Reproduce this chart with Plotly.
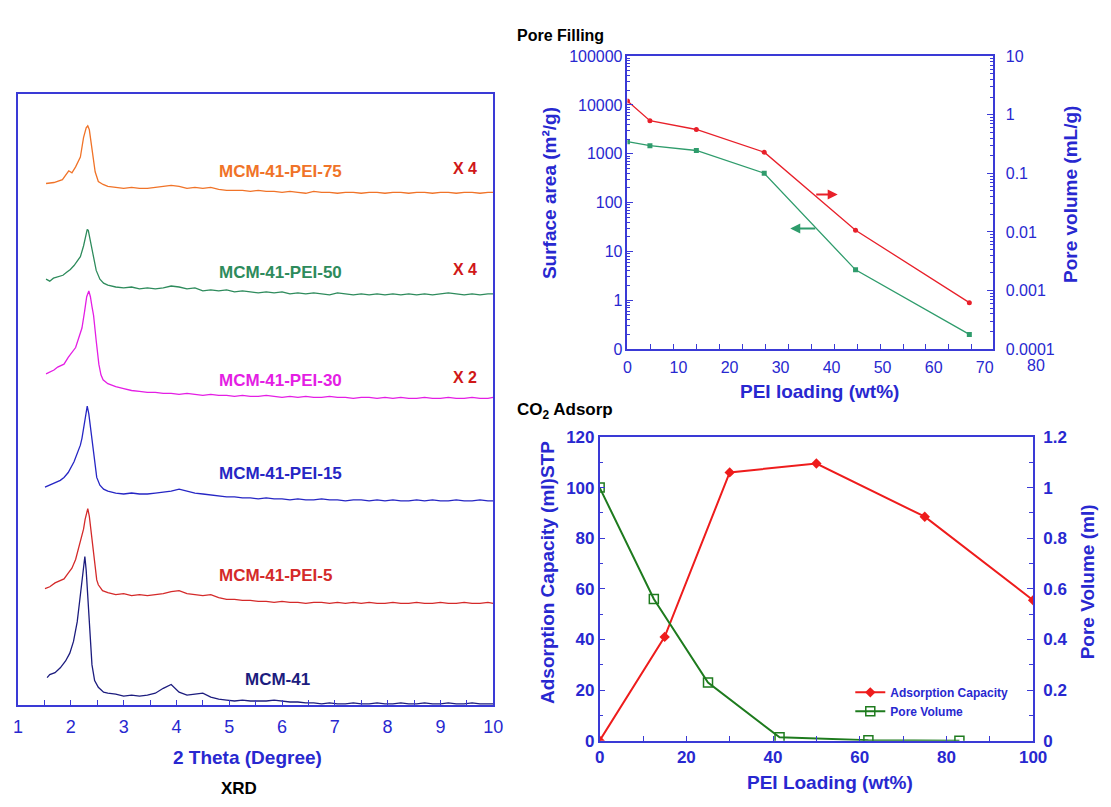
import math
import plotly.graph_objects as go

# ---------------- DATA ----------------
# XRD patterns: 2 theta (degree) vs stacked intensity (a.u.)
# peak region points per sample, then a shared grid for the flat tails
tail_x = [2.70,2.85,3.00,3.15,3.30,3.45,3.60,3.75,3.90,4.05,
          4.20,4.35,4.50,4.65,4.80,4.95,5.10,5.25,5.40,5.55,
          5.70,5.85,6.00,6.15,6.30,6.45,6.60,6.75,6.90,7.05,
          7.20,7.35,7.50,7.65,7.80,7.95,8.10,8.25,8.40,8.55,
          8.70,8.85,9.00,9.15,9.30,9.45,9.60,9.75,9.90,10.0]

mcm41_head_x = [1.55,1.60,1.70,1.80,1.90,1.98,2.05,2.12,2.17,2.21,2.24,2.265,2.29,2.32,2.36,2.40,2.45,2.52,2.62]
mcm41_head_y = [28,31,33,38,45,53,65,85,108,128,146,152,138,108,73,41,25,18,13]
mcm41_tail_y = [12,11,9,10,9,10,12,17,21,13,
                10,11,12,8,6,5,4,5,4,4,
                4,5,4,3,3,2,2,1,2,1,
                1,2,1,1,2,1,1,2,1,1,
                2,1,1,2,1,1,2,1,1,1]

pei5_head_x = [1.51,1.60,1.70,1.80,1.87,1.95,2.02,2.09,2.15,2.20,2.24,2.27,2.30,2.32,2.35,2.38,2.41,2.45,2.49,2.52,2.60]
pei5_head_y = [119,121,125,127,129,135,140,149,161,173,180,190,199,201,193,178,166,143,128,123,117]
pei5_tail_y = [115,113,114,112,113,112,113,114,116,117,
               114,113,112,113,110,108,108,107,107,106,
               106,105,106,105,105,104,105,105,104,105,
               104,105,104,105,104,104,105,104,104,105,
               104,104,105,104,104,105,104,104,105,104]

pei15_head_x = [1.51,1.60,1.70,1.80,1.87,1.95,2.06,2.13,2.18,2.21,2.25,2.29,2.31,2.34,2.37,2.40,2.44,2.49,2.55,2.62]
pei15_head_y = [223,225,227,230,233,238,249,258,266,273,288,303,306,298,285,273,251,233,225,221]
pei15_tail_y = [219,217,216,217,216,216,217,218,219,221,
                219,217,216,215,214,213,213,212,212,211,
                212,211,211,210,211,210,210,211,210,210,
                209,210,210,209,210,209,210,209,209,210,
                209,210,209,209,210,209,209,210,209,209]

pei30_head_x = [1.53,1.60,1.68,1.75,1.87,1.95,2.02,2.09,2.15,2.21,2.26,2.30,2.34,2.37,2.40,2.43,2.48,2.53,2.57,2.61]
pei30_head_y = [339,341,343,346,349,356,361,366,376,386,403,418,424,418,408,399,373,349,338,333]
pei30_tail_y = [329,326,324,322,321,320,320,319,319,318,
                319,318,317,318,317,317,316,317,316,316,
                317,316,315,316,315,316,315,315,316,315,
                315,314,315,315,314,315,314,315,314,314,
                315,314,314,315,314,314,315,314,314,315]

pei50_head_x = [1.53,1.60,1.67,1.745,1.85,1.92,1.99,2.06,2.12,2.18,2.24,2.27,2.31,2.33,2.36,2.42,2.48,2.55,2.62]
pei50_head_y = [436,434,437,438,440,443,446,450,455,459,470,479,487,486,478,459,445,436,432]
pei50_tail_y = [430,428,427,428,426,427,426,427,429,428,
                426,427,424,425,424,425,423,424,423,422,
                423,422,423,421,422,421,422,421,420,422,
                421,420,421,420,421,420,421,420,421,420,
                421,420,421,422,421,420,421,420,421,421]

pei75_head_x = [1.53,1.68,1.84,1.90,1.96,2.02,2.09,2.18,2.24,2.29,2.32,2.35,2.40,2.46,2.52,2.61]
pei75_head_y = [534,535,538,543,547,545,551,561,581,591,593,589,569,546,536,533]
pei75_tail_y = [531,530,529,530,529,529,530,531,532,531,
                529,530,529,530,528,527,527,527,526,527,
                526,526,525,526,525,524,526,525,525,524,
                525,525,524,525,525,524,525,525,524,525,
                525,524,525,525,524,525,525,524,525,525]

xrd_names = ["MCM-41", "MCM-41-PEI-5", "MCM-41-PEI-15", "MCM-41-PEI-30", "MCM-41-PEI-50", "MCM-41-PEI-75"]
xrd_scale = ["", "", "", "X 2", "X 4", "X 4"]

# Pore filling (top right)
pf_loading = [0, 4.4, 13.5, 26.8, 44.7, 67.0]
surface_area = [1770, 1470, 1170, 400, 4.2, 0.2]
pore_volume_pf = [1.71, 0.79, 0.56, 0.23, 0.0107, 0.00062]

# CO2 adsorption (bottom right)
ads_loading = [0, 15, 30, 50, 75, 100]
ads_capacity = [0, 41, 106, 109.5, 88.5, 55.5]
pv_loading = [0, 12.5, 25, 41.5, 62, 83]
pv_volume = [1.0, 0.56, 0.23, 0.013, 0.002, 0.0]

# ---------------- STYLE / LAYOUT ----------------
W, H = 1111, 807
def PX(p): return p / W
def PY(p): return 1 - p / H

BLUE = "#2828D0"
FRAME = "#3a3ad6"
FONT = "Liberation Sans, Arial, sans-serif"
xrd_colors = ["#1c1c7e", "#d42a2a", "#2626c4", "#e41ee4", "#2e8b5c", "#f07328"]

fig = go.Figure()

xrd_data = [(mcm41_head_x, mcm41_head_y, mcm41_tail_y),
            (pei5_head_x, pei5_head_y, pei5_tail_y),
            (pei15_head_x, pei15_head_y, pei15_tail_y),
            (pei30_head_x, pei30_head_y, pei30_tail_y),
            (pei50_head_x, pei50_head_y, pei50_tail_y),
            (pei75_head_x, pei75_head_y, pei75_tail_y)]
for (hx, hy, ty), c, n in zip(xrd_data, xrd_colors, xrd_names):
    assert len(hx) == len(hy) and len(ty) == len(tail_x), n
    fig.add_trace(go.Scatter(x=hx + tail_x, y=hy + ty, mode="lines", name=n, line=dict(color=c, width=1.3),
                             xaxis="x", yaxis="y", showlegend=False))

# top right
fig.add_trace(go.Scatter(x=pf_loading, y=surface_area, mode="lines+markers", name="Surface area",
                         line=dict(color="#2f9c6c", width=1.3), marker=dict(symbol="square", size=5, color="#2f9c6c"),
                         xaxis="x2", yaxis="y2", showlegend=False))
fig.add_trace(go.Scatter(x=pf_loading, y=pore_volume_pf, mode="lines+markers", name="Pore volume",
                         line=dict(color="#e8202a", width=1.3), marker=dict(symbol="circle", size=5, color="#e8202a"),
                         xaxis="x2", yaxis="y3", showlegend=False))

# bottom right
fig.add_trace(go.Scatter(x=ads_loading, y=ads_capacity, mode="lines+markers", name="Adsorption Capacity",
                         line=dict(color="#ee1c1c", width=2), marker=dict(symbol="diamond", size=8, color="#ee1c1c"),
                         xaxis="x3", yaxis="y4"))
fig.add_trace(go.Scatter(x=pv_loading, y=pv_volume, mode="lines+markers", name="Pore Volume",
                         line=dict(color="#1e7b1e", width=2),
                         marker=dict(symbol="square-open", size=9, color="#1e7b1e", line=dict(width=1.5)),
                         xaxis="x3", yaxis="y5"))

# domains
xrd_dom_x = [PX(13.3), PX(496.7)]
xrd_dom_y = [PY(712.7), PY(86.7)]
pf_dom_x = [PX(633.3), PX(1005)]
pf_dom_y = [PY(348.3), PY(48.3)]
ad_dom_x = [PX(605), PX(1046)]
ad_dom_y = [PY(749.3), PY(438.3)]
pf_xrange = [0, 71.6]

tf_reg = lambda s: dict(family=FONT, size=s, color=BLUE)
tf_bold = lambda s: dict(family=FONT, size=s, color=BLUE, weight="bold")

common = dict(showline=True, linecolor=FRAME, linewidth=1.5, mirror=True, showgrid=False, zeroline=False,
              ticks="inside", tickcolor=FRAME)

layout = dict(
    width=W, height=H, margin=dict(l=0, r=0, t=0, b=0, pad=0), autosize=False,
    paper_bgcolor="white", plot_bgcolor="white", font=dict(family=FONT),
    xaxis=dict(domain=xrd_dom_x, range=[1, 10], dtick=1, tickfont=tf_reg(18), ticklen=5, anchor="y",
               ticklabelstandoff=5,
               minor=dict(ticks="inside", dtick=0.5, ticklen=5, tickcolor=FRAME), **common),
    yaxis=dict(domain=xrd_dom_y, range=[0, 626], showticklabels=False, anchor="x",
               showline=True, linecolor=FRAME, linewidth=1.5, mirror=True, showgrid=False, zeroline=False, ticks=""),
    xaxis2=dict(domain=pf_dom_x, range=pf_xrange, tickvals=[0, 10, 20, 30, 40, 50, 60, 70], tickfont=tf_reg(16),
                ticklen=0, anchor="y2", ticklabelstandoff=3,
                minor=dict(ticks="inside", tick0=0, dtick=4.5, ticklen=5, tickcolor=FRAME), **common),
    yaxis2=dict(domain=pf_dom_y, type="log", range=[-1, 5], dtick=1, tickformat="d", tickfont=tf_reg(16), ticklen=6,
                anchor="x2", minor=dict(ticks="inside", ticklen=3, dtick="D1", tickcolor=FRAME), **common),
    yaxis3=dict(type="log", range=[-4, 1], tickvals=[0.0001, 0.001, 0.01, 0.1, 1, 10],
                ticktext=["0.0001", "0.001", "0.01", "0.1", "1", "10"], tickfont=tf_reg(16), ticklen=6,
                ticklabelstandoff=8,
                overlaying="y2", side="right", anchor="x2", showline=True, linecolor=FRAME, linewidth=1.5,
                showgrid=False, zeroline=False, ticks="inside", tickcolor=FRAME,
                minor=dict(ticks="inside", ticklen=3, dtick="D1", tickcolor=FRAME)),
    xaxis3=dict(domain=ad_dom_x, range=[0, 100], dtick=20, tickfont=tf_bold(17), ticklen=5, anchor="y4",
                minor=dict(ticks="inside", dtick=10, ticklen=5, tickcolor=FRAME), **common),
    yaxis4=dict(domain=ad_dom_y, range=[0, 120], dtick=20, tickfont=tf_bold(17), ticklen=6, anchor="x3",
                minor=dict(ticks="inside", dtick=10, ticklen=4, tickcolor=FRAME), **common),
    yaxis5=dict(range=[0, 1.2], dtick=0.2, tickfont=tf_bold(17), ticklen=6, overlaying="y4", side="right",
                anchor="x3", showline=True, linecolor=FRAME, linewidth=1.5, showgrid=False, zeroline=False,
                ticks="inside", tickcolor=FRAME, ticklabelstandoff=5,
                minor=dict(ticks="inside", dtick=0.1, ticklen=4, tickcolor=FRAME)),
    legend=dict(x=PX(860), y=PY(685), xanchor="left", yanchor="top", bgcolor="rgba(0,0,0,0)",
                font=dict(family=FONT, size=12, color=BLUE, weight="bold"), tracegroupgap=0),
)
fig.update_layout(**layout)

ann = []
def A(text, x, y, size, color=BLUE, angle=0, xanchor="center", xref="paper", yref="paper"):
    ann.append(dict(text=text, x=x, y=y, xref=xref, yref=yref, showarrow=False, textangle=angle,
                    xanchor=xanchor, yanchor="middle", font=dict(family=FONT, size=size, color=color)))

# XRD sample labels (data coordinates)
label_pos = [(5.91, 26), (5.87, 132.7), (5.97, 237), (5.97, 332.7), (5.97, 442.7), (5.97, 546)]
scale_pos = [None, None, None, (9.47, 335.7), (9.47, 446), (9.47, 549.4)]
for n, c, (lx, ly), s, sp in zip(xrd_names, xrd_colors, label_pos, xrd_scale, scale_pos):
    A("<b>%s</b>" % n, lx, ly, 17, color=c, xref="x", yref="y")
    if s:
        A("<b>%s</b>" % s, sp[0], sp[1], 16, color="#d01818", xref="x", yref="y")

A("<b>2 Theta (Degree)</b>", PX(246.7), PY(766.7), 19)
A("<b>XRD</b>", PX(238), PY(798), 17, color="black")
A("<b>Pore Filling</b>", PX(519), PY(27), 16, color="black", xanchor="left")
A("<b>Surface area (m²/g)</b>", PX(554), PY(189), 19, angle=-90)
A("<b>Pore volume (mL/g)</b>", PX(1084), PY(190), 19, angle=-90)
A("<b>PEI loading (wt%)</b>", PX(829), PY(391.7), 19)
A("<b>CO<sub>2</sub> Adsorp</b>", PX(519), PY(412), 17, color="black", xanchor="left")
A("<b>Adsorption Capacity (ml)STP</b>", PX(552), PY(577), 19, angle=-90)
A("<b>Pore Volume (ml)</b>", PX(1101), PY(587), 19, angle=-90)
A("<b>PEI Loading (wt%)</b>", PX(839.5), PY(791.7), 19)
# stray "80" tick label beyond the pore-filling frame
x80 = pf_dom_x[0] + (80 - pf_xrange[0]) / (pf_xrange[1] - pf_xrange[0]) * (pf_dom_x[1] - pf_dom_x[0])
A("80", x80, PY(365), 16)

# arrows in pore filling panel
ann.append(dict(x=41.2, y=math.log10(0.0435), ax=36.7, ay=math.log10(0.0435), xref="x2", yref="y3",
                axref="x2", ayref="y3", showarrow=True, arrowhead=2, arrowsize=1, arrowwidth=2,
                arrowcolor="#e8202a", text=""))
ann.append(dict(x=31.9, y=math.log10(29.5), ax=37.1, ay=math.log10(29.5), xref="x2", yref="y2",
                axref="x2", ayref="y2", showarrow=True, arrowhead=2, arrowsize=1, arrowwidth=2,
                arrowcolor="#2f9c6c", text=""))

fig.update_layout(annotations=ann)
fig.write_html("out.html")
